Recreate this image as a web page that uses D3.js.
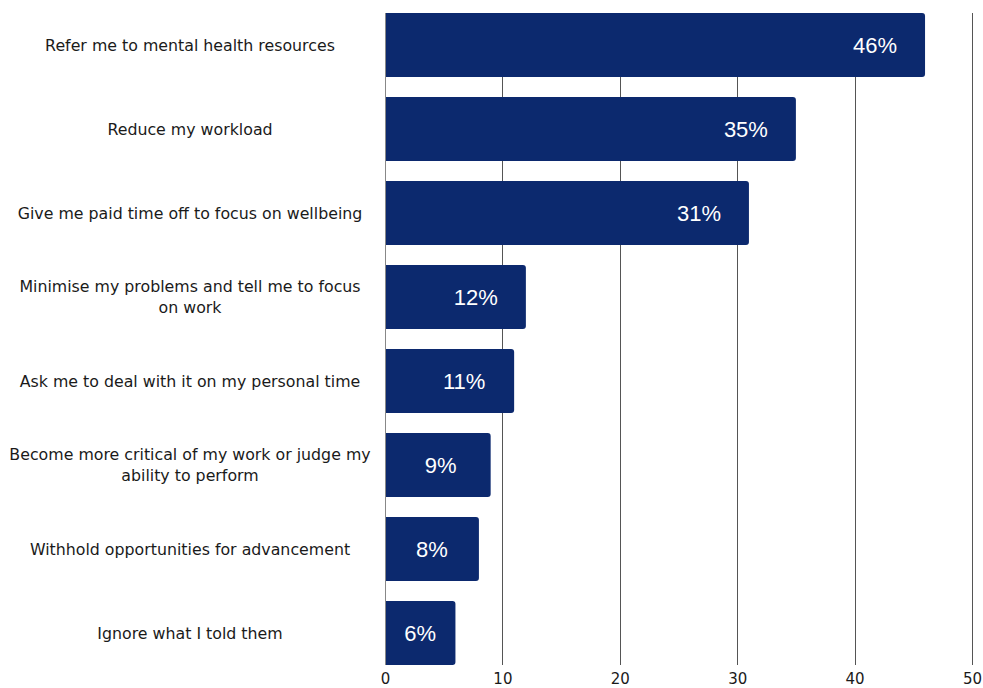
<!DOCTYPE html>
<html>
<head>
<meta charset="utf-8">
<script src="https://cdn.jsdelivr.net/npm/d3@7"></script>
<style>
  html, body { margin: 0; padding: 0; background: #ffffff; }
  svg { display: block; }
</style>
</head>
<body>
<svg id="chart" width="983" height="688"></svg>
<script>
// Employer responses to a disclosed mental health issue
const categories = [
  ["Refer me to mental health resources"],
  ["Reduce my workload"],
  ["Give me paid time off to focus on wellbeing"],
  ["Minimise my problems and tell me to focus", "on work"],
  ["Ask me to deal with it on my personal time"],
  ["Become more critical of my work or judge my", "ability to perform"],
  ["Withhold opportunities for advancement"],
  ["Ignore what I told them"]
];
const values = [46, 35, 31, 12, 11, 9, 8, 6];
const xTicks = [0, 10, 20, 30, 40, 50];

const svg = d3.select("#chart");
const labelFont = "'DejaVu Sans', sans-serif";

const x = d3.scaleLinear().domain([0, 50]).range([385, 972]);
const y = d3.scaleBand()
  .domain(d3.range(values.length))
  .range([3, 675])
  .paddingInner(20 / 84)
  .paddingOuter(10 / 84);

const plotTop = y(0);
const plotBottom = y(values.length - 1) + y.bandwidth();

// vertical gridlines
svg.append("g")
  .selectAll("line")
  .data(xTicks.slice(1))
  .join("line")
  .attr("x1", d => Math.round(x(d)) + 0.5)
  .attr("x2", d => Math.round(x(d)) + 0.5)
  .attr("y1", plotTop)
  .attr("y2", plotBottom)
  .attr("stroke", "#555")
  .attr("stroke-width", 1);

// bars, square on the left and rounded on the right
const r = 3;
svg.append("g")
  .selectAll("path")
  .data(values)
  .join("path")
  .attr("fill", "#0c296e")
  .attr("d", (v, i) => {
    const x0 = x(0), x1 = x(v), y0 = y(i), y1 = y(i) + y.bandwidth();
    return `M${x0},${y0}H${x1 - r}Q${x1},${y0} ${x1},${y0 + r}` +
           `V${y1 - r}Q${x1},${y1} ${x1 - r},${y1}H${x0}Z`;
  });

// zero line
svg.append("line")
  .attr("x1", Math.round(x(0)) + 0.5)
  .attr("x2", Math.round(x(0)) + 0.5)
  .attr("y1", plotTop)
  .attr("y2", plotBottom)
  .attr("stroke", "#888")
  .attr("stroke-width", 1);

// value labels inside the bars
svg.append("g")
  .selectAll("text")
  .data(values)
  .join("text")
  .attr("x", v => Math.max(x(v) - 50, (x(0) + x(v)) / 2))
  .attr("y", (v, i) => y(i) + y.bandwidth() / 2)
  .attr("dy", "0.36em")
  .attr("text-anchor", "middle")
  .attr("fill", "#ffffff")
  .attr("font-family", "'Liberation Sans', Arial, sans-serif")
  .attr("font-size", 22)
  .text(v => v + "%");

// category labels, centred in the left margin
const lineH = 21;
const cat = svg.append("g")
  .selectAll("text")
  .data(categories)
  .join("text")
  .attr("text-anchor", "middle")
  .attr("fill", "#1a1a1a")
  .attr("font-family", labelFont)
  .attr("font-size", 15.8)
  .attr("y", (d, i) => y(i) + y.bandwidth() / 2 - (d.length - 1) * lineH / 2);
cat.selectAll("tspan")
  .data(d => d)
  .join("tspan")
  .attr("x", 190)
  .attr("dy", (d, j) => j === 0 ? "0.35em" : lineH)
  .text(d => d);

// x axis tick labels
const axis = svg.append("g")
  .attr("transform", `translate(0,${plotBottom})`)
  .call(d3.axisBottom(x).tickValues(xTicks).tickSize(0).tickPadding(8).tickFormat(d3.format("d")));
axis.select(".domain").remove();
axis.selectAll("text")
  .attr("font-family", labelFont)
  .attr("font-size", 15)
  .attr("fill", "#1a1a1a");
</script>
</body>
</html>
